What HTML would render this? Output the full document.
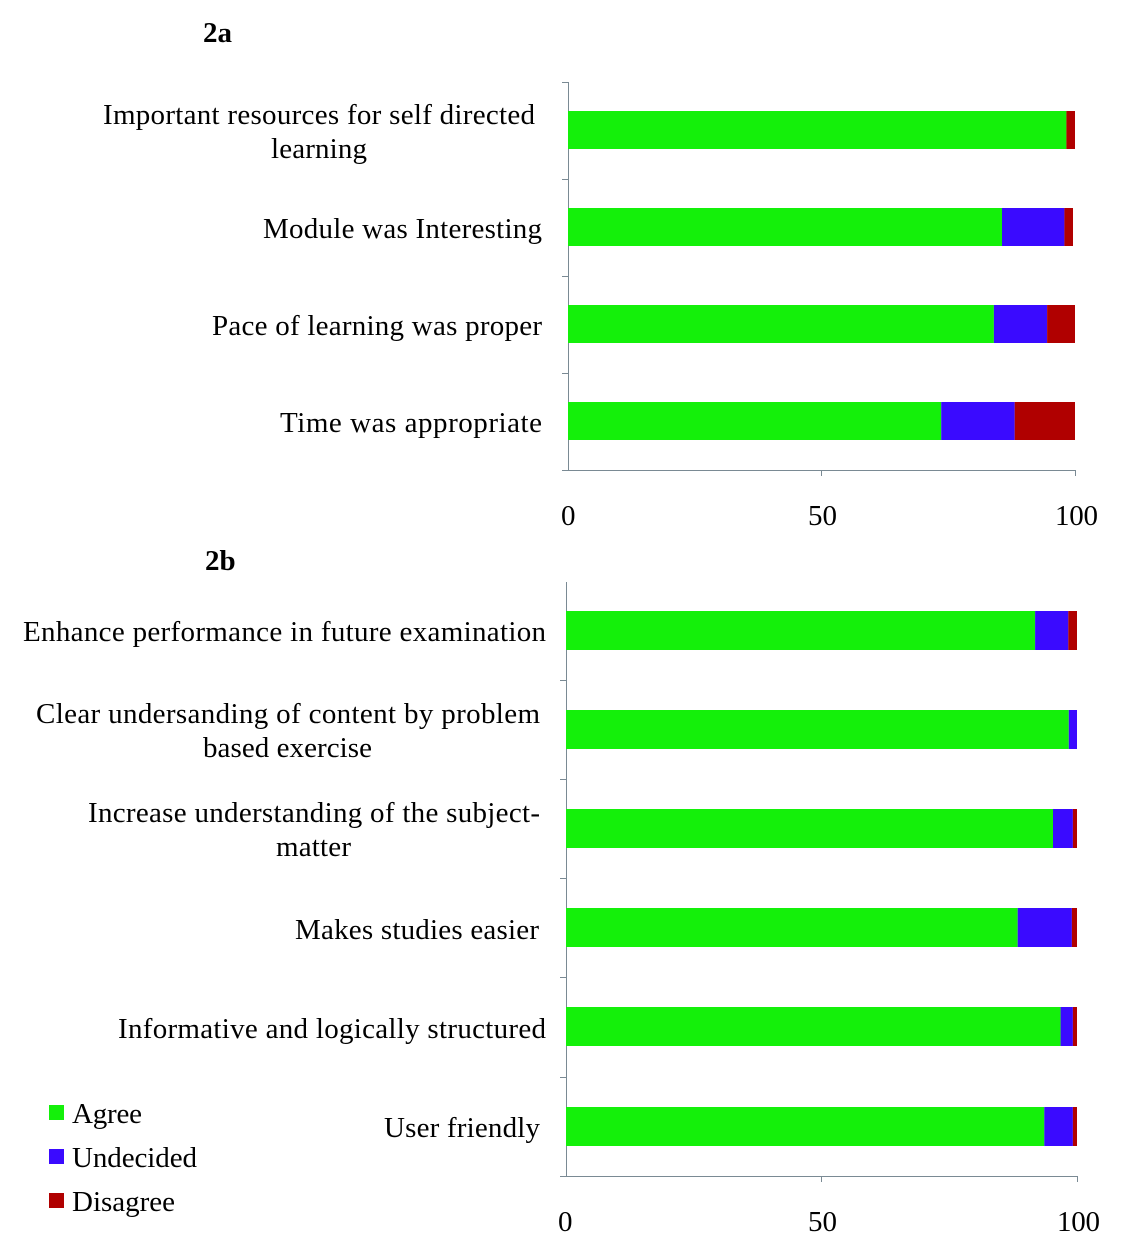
<!DOCTYPE html>
<html><head><style>body{margin:0;background:#fff}svg{display:block}</style></head><body>
<svg width="1133" height="1257" viewBox="0 0 1133 1257" xmlns="http://www.w3.org/2000/svg" font-family="Liberation Serif, serif" font-size="29" fill="#000">
<rect width="1133" height="1257" fill="#fff"/>
<text x="203" y="42" font-weight="bold" font-size="29">2a</text>
<text x="205" y="570" font-weight="bold" font-size="29">2b</text>
<g stroke="#7a8a94" stroke-width="1">
<line x1="568.5" y1="82" x2="568.5" y2="470"/>
<line x1="568" y1="470.5" x2="1075" y2="470.5"/>
<line x1="562" y1="82.5" x2="568" y2="82.5"/><line x1="562" y1="179.5" x2="568" y2="179.5"/><line x1="562" y1="276.5" x2="568" y2="276.5"/><line x1="562" y1="373.5" x2="568" y2="373.5"/><line x1="562" y1="470.5" x2="568" y2="470.5"/>
<line x1="821.5" y1="470" x2="821.5" y2="476"/><line x1="1075.5" y1="470" x2="1075.5" y2="476"/>
<line x1="566.5" y1="582" x2="566.5" y2="1176"/>
<line x1="566" y1="1176.5" x2="1077" y2="1176.5"/>
<line x1="560" y1="680.5" x2="566" y2="680.5"/><line x1="560" y1="779.5" x2="566" y2="779.5"/><line x1="560" y1="878.5" x2="566" y2="878.5"/><line x1="560" y1="977.5" x2="566" y2="977.5"/><line x1="560" y1="1077.5" x2="566" y2="1077.5"/><line x1="560" y1="1176.5" x2="566" y2="1176.5"/>
<line x1="821.5" y1="1176" x2="821.5" y2="1182"/><line x1="1077.5" y1="1176" x2="1077.5" y2="1182"/>
</g>
<g>
<rect x="568" y="111" width="498.4" height="38" fill="#14f00a"/><rect x="1066.4" y="111" width="8.6" height="38" fill="#b00000"/>
<rect x="568" y="208" width="434" height="38" fill="#14f00a"/><rect x="1002" y="208" width="62.4" height="38" fill="#3a0aff"/><rect x="1064.4" y="208" width="8.6" height="38" fill="#b00000"/>
<rect x="568" y="305" width="425.9" height="38" fill="#14f00a"/><rect x="993.9" y="305" width="53.2" height="38" fill="#3a0aff"/><rect x="1047.1" y="305" width="27.9" height="38" fill="#b00000"/>
<rect x="568" y="402" width="373.2" height="38" fill="#14f00a"/><rect x="941.2" y="402" width="73.5" height="38" fill="#3a0aff"/><rect x="1014.7" y="402" width="60.3" height="38" fill="#b00000"/>

<rect x="566" y="611" width="469.1" height="39" fill="#14f00a"/><rect x="1035.1" y="611" width="33.2" height="39" fill="#3a0aff"/><rect x="1068.3" y="611" width="8.7" height="39" fill="#b00000"/>
<rect x="566" y="710" width="502.8" height="39" fill="#14f00a"/><rect x="1068.8" y="710" width="8.2" height="39" fill="#3a0aff"/>
<rect x="566" y="809" width="487" height="39" fill="#14f00a"/><rect x="1053" y="809" width="19.9" height="39" fill="#3a0aff"/><rect x="1072.9" y="809" width="4.1" height="39" fill="#b00000"/>
<rect x="566" y="908" width="451.7" height="39" fill="#14f00a"/><rect x="1017.7" y="908" width="54.2" height="39" fill="#3a0aff"/><rect x="1071.9" y="908" width="5.1" height="39" fill="#b00000"/>
<rect x="566" y="1007" width="494.6" height="39" fill="#14f00a"/><rect x="1060.6" y="1007" width="12.3" height="39" fill="#3a0aff"/><rect x="1072.9" y="1007" width="4.1" height="39" fill="#b00000"/>
<rect x="566" y="1107" width="478.3" height="39" fill="#14f00a"/><rect x="1044.3" y="1107" width="28.6" height="39" fill="#3a0aff"/><rect x="1072.9" y="1107" width="4.1" height="39" fill="#b00000"/>
</g>
<g lengthAdjust="spacing">
<text x="103" y="124" textLength="432">Important resources for self directed</text>
<text x="271" y="158" textLength="96">learning</text>
<text x="263" y="238" textLength="279">Module was Interesting</text>
<text x="212" y="335" textLength="330">Pace of learning was proper</text>
<text x="280" y="432" textLength="262">Time  was appropriate</text>
<text x="23" y="641" textLength="523">Enhance performance in future examination</text>
<text x="36" y="723" textLength="504">Clear undersanding of content by problem</text>
<text x="203" y="757" textLength="169">based exercise</text>
<text x="88" y="822" textLength="452">Increase understanding of the subject-</text>
<text x="276" y="856" textLength="75">matter</text>
<text x="295" y="939" textLength="244">Makes studies easier</text>
<text x="118" y="1038" textLength="428">Informative and logically structured</text>
<text x="384" y="1137" textLength="156">User friendly</text>
<text x="72" y="1123" textLength="70">Agree</text>
<text x="72" y="1167" textLength="125">Undecided</text>
<text x="72" y="1211" textLength="103">Disagree</text>
<text x="561" y="525" textLength="15">0</text><text x="808" y="525" textLength="29">50</text><text x="1055" y="525" textLength="43">100</text>
<text x="558" y="1231" textLength="15">0</text><text x="808" y="1231" textLength="29">50</text><text x="1057" y="1231" textLength="43">100</text>
</g>
<rect x="49" y="1105" width="15" height="15" fill="#14f00a"/>
<rect x="49" y="1149" width="15" height="15" fill="#3a0aff"/>
<rect x="49" y="1193" width="15" height="15" fill="#b00000"/>
</svg>
</body></html>
